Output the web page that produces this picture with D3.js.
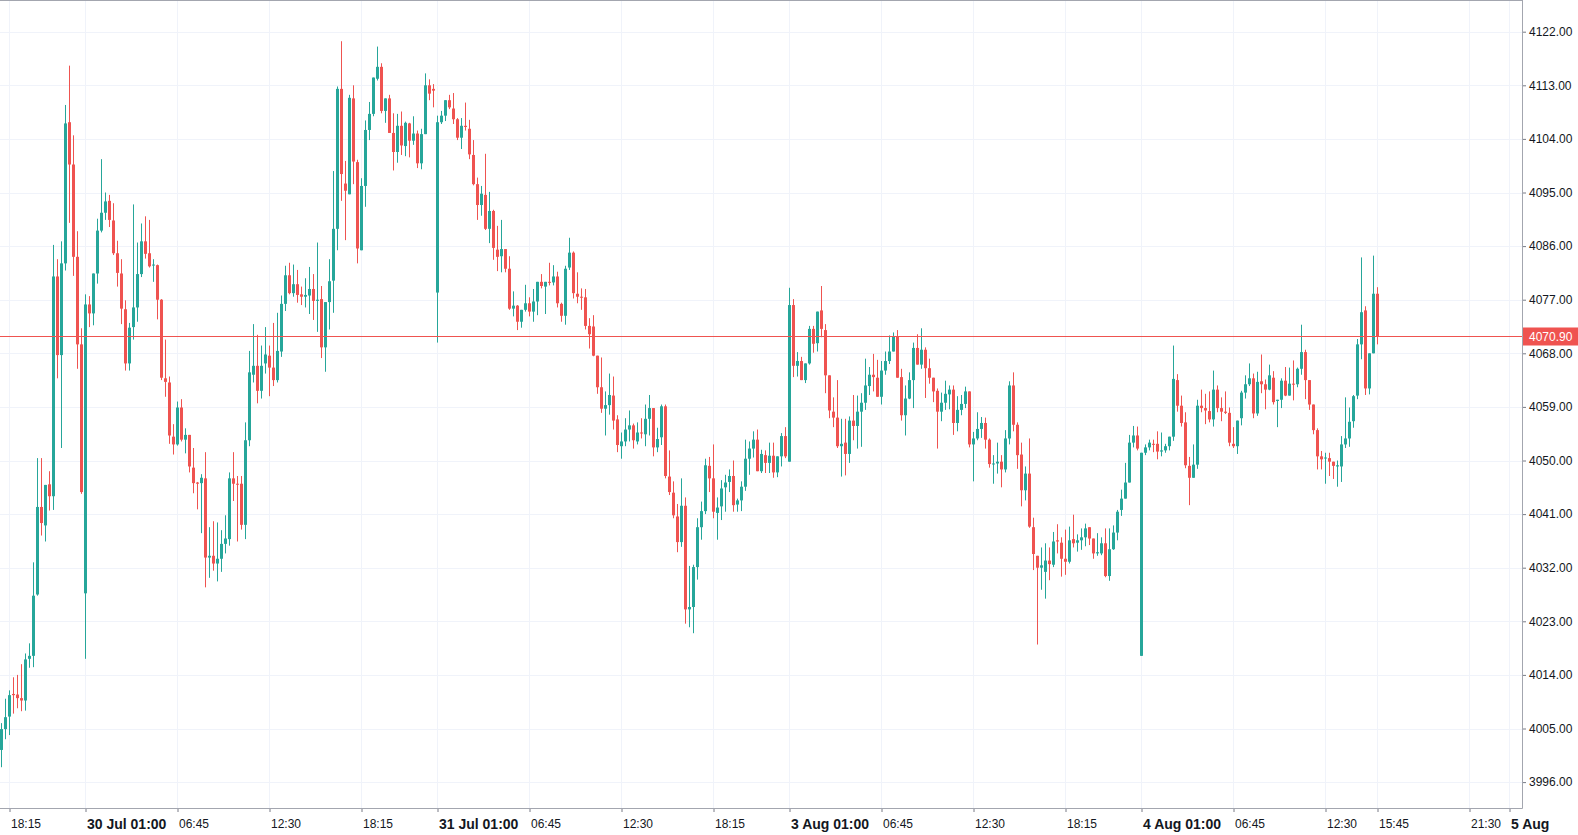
<!DOCTYPE html>
<html>
<head>
<meta charset="utf-8">
<script src="https://d3js.org/d3.v7.min.js"></script>
<style>
  body { margin: 0; background: #ffffff; }
  svg { display: block; font-family: "Liberation Sans", Arial, sans-serif; }
</style>
</head>
<body>
<svg id="chart"></svg>
<script>
// 15 min candles, 29 Jul 17:45 -> 4 Aug 15:45 (session gaps skipped)
const opens = [
4001.4,4004.9,4007.0,4010.8,4010.7,4010.1,4009.7,4016.7,4017.2,4027.5,4042.2,4039.1,4046.0,4044.0,4080.9,4067.7,4083.1,4106.8,4099.7,4084.2,
4069.5,4027.7,4076.2,4074.7,4081.4,4088.6,4091.6,4093.6,4090.3,4084.8,4081.4,4075.4,4066.3,4072.4,4075.7,4081.3,4086.8,4084.8,4082.8,4082.8,
4077.0,4063.8,4063.1,4054.0,4052.7,4058.9,4053.5,4054.3,4048.8,4046.3,4046.2,4047.0,4033.7,4034.0,4032.7,4033.5,4036.0,4036.8,4047.0,4046.1,
4046.1,4039.2,4053.4,4064.4,4065.9,4061.7,4066.3,4067.6,4065.6,4063.5,4068.3,4076.3,4081.1,4078.1,4079.6,4077.9,4077.5,4077.7,4078.8,4076.8,
4077.1,4069.0,4076.6,4080.2,4088.9,4112.4,4096.5,4094.7,4110.8,4100.1,4085.3,4096.1,4105.5,4108.2,4114.1,4116.1,4108.7,4110.8,4105.0,4101.8,
4106.2,4102.8,4106.6,4103.7,4104.9,4099.9,4104.8,4113.0,4112.4,4078.2,4106.8,4107.9,4110.5,4109.1,4107.3,4104.2,4106.2,4105.7,4101.3,4096.4,
4092.9,4094.6,4088.9,4091.9,4085.4,4084.3,4085.5,4082.2,4075.5,4076.0,4073.3,4075.3,4076.4,4075.0,4076.7,4080.0,4079.2,4080.0,4079.9,4080.9,
4076.3,4074.3,4082.4,4084.9,4078.0,4077.5,4077.4,4072.6,4072.5,4067.6,4062.3,4058.7,4059.3,4060.9,4056.9,4052.4,4053.2,4055.2,4055.9,4053.2,
4054.7,4054.4,4057.0,4058.8,4052.2,4053.9,4059.1,4047.3,4044.6,4040.6,4036.3,4042.4,4025.0,4025.4,4032.1,4038.8,4041.5,4049.1,4047.0,4041.2,
4042.3,4045.5,4046.4,4047.4,4042.6,4043.3,4045.6,4050.3,4052.0,4053.5,4048.2,4050.9,4049.6,4050.8,4048.0,4050.7,4054.1,4049.8,4076.1,4065.9,
4066.7,4063.5,4066.3,4072.1,4069.7,4075.2,4071.9,4064.3,4058.2,4057.2,4052.4,4053.0,4051.1,4056.7,4055.8,4058.2,4059.7,4062.5,4064.4,4063.9,
4060.7,4065.1,4066.7,4068.3,4070.8,4064.0,4057.6,4060.4,4063.5,4068.9,4066.1,4068.6,4065.5,4063.9,4061.7,4058.2,4059.7,4061.1,4061.9,4056.3,
4058.5,4059.5,4061.6,4052.7,4053.7,4055.3,4056.3,4053.5,4049.4,4049.5,4049.8,4048.5,4053.7,4062.6,4056.0,4051.0,4045.0,4047.8,4038.8,4034.0,
4032.0,4031.3,4033.2,4032.5,4036.6,4036.2,4033.5,4033.0,4036.8,4036.2,4036.6,4037.1,4038.8,4036.9,4034.4,4034.4,4036.1,4030.6,4035.1,4037.9,
4041.7,4043.6,4046.3,4053.0,4054.2,4017.2,4051.3,4052.2,4052.8,4052.8,4051.5,4051.7,4052.4,4054.0,4063.5,4059.2,4056.4,4049.1,4047.1,4049.3,
4059.2,4058.8,4058.3,4056.9,4061.9,4058.8,4058.2,4058.0,4052.8,4052.4,4057.1,4061.4,4062.8,4063.8,4057.9,4063.3,4062.8,4061.9,4063.9,4060.0,
4060.2,4063.4,4060.9,4062.9,4062.8,4065.4,4068.2,4063.5,4059.4,4055.1,4050.7,4050.4,4050.4,4049.8,4049.0,4049.0,4052.7,4053.7,4056.6,4060.9,
4069.5,4075.2,4062.1,4068.0,4078.0
];
const highs = [
4005.9,4010.0,4011.4,4013.6,4014.0,4015.8,4017.6,4019.3,4032.9,4050.4,4050.4,4045.9,4048.2,4086.2,4083.8,4086.8,4109.7,4116.3,4104.6,4088.5,
4072.2,4077.9,4077.6,4081.4,4090.6,4100.6,4095.0,4094.6,4093.2,4086.9,4083.8,4076.9,4073.1,4093.0,4086.6,4089.8,4091.0,4090.4,4083.8,4082.9,
4077.1,4070.3,4064.1,4056.1,4059.9,4060.3,4055.4,4054.3,4052.1,4046.4,4047.7,4051.4,4038.8,4039.8,4039.6,4038.3,4040.8,4048.0,4051.4,4047.4,
4047.4,4056.4,4068.4,4072.9,4071.1,4069.3,4072.4,4069.3,4073.1,4074.8,4077.7,4082.7,4083.2,4082.9,4082.0,4079.2,4080.6,4082.5,4081.3,4086.6,
4079.3,4076.6,4083.8,4098.6,4112.8,4120.4,4100.3,4111.4,4113.0,4100.5,4097.4,4107.1,4110.2,4114.3,4119.5,4116.7,4110.8,4111.4,4108.3,4108.2,
4108.6,4106.9,4106.7,4107.8,4105.4,4105.7,4115.0,4114.0,4113.2,4107.9,4108.7,4110.5,4111.4,4111.7,4107.5,4107.5,4110.1,4107.2,4103.8,4097.5,
4096.1,4101.5,4095.1,4092.1,4089.4,4090.4,4085.5,4084.3,4078.4,4076.1,4075.3,4079.5,4077.4,4078.8,4080.0,4081.3,4080.0,4083.2,4082.8,4081.7,
4076.5,4082.7,4087.4,4085.1,4081.6,4078.9,4078.8,4073.9,4074.4,4067.6,4067.3,4061.6,4064.6,4064.1,4057.6,4054.7,4057.1,4058.4,4056.2,4056.4,
4057.1,4059.4,4061.0,4058.8,4055.5,4059.4,4059.4,4051.7,4046.5,4042.7,4047.0,4043.8,4032.3,4032.5,4040.3,4043.1,4050.3,4050.6,4052.7,4043.8,
4046.7,4047.6,4048.5,4050.0,4043.6,4046.5,4053.5,4053.2,4054.9,4055.2,4051.8,4051.7,4053.0,4053.0,4050.7,4054.6,4055.6,4079.0,4077.1,4068.2,
4067.4,4066.3,4072.6,4072.6,4075.0,4079.3,4072.9,4064.3,4060.6,4063.5,4057.0,4057.0,4057.4,4061.0,4060.9,4061.3,4067.1,4065.7,4067.9,4066.9,
4066.7,4068.3,4071.0,4071.5,4071.9,4065.4,4062.6,4064.8,4069.8,4071.2,4072.2,4069.0,4067.1,4063.9,4062.1,4061.4,4063.4,4062.6,4062.6,4060.8,
4061.0,4062.4,4061.6,4054.8,4058.1,4057.3,4057.2,4053.7,4050.9,4053.0,4050.9,4055.1,4063.3,4064.8,4056.4,4053.0,4049.0,4053.7,4040.4,4034.0,
4035.4,4036.1,4035.4,4038.0,4039.3,4037.1,4038.4,4038.9,4040.9,4037.6,4038.6,4039.4,4038.8,4036.9,4037.8,4037.1,4038.6,4038.6,4039.1,4041.7,
4045.1,4049.6,4054.3,4055.8,4055.7,4051.3,4052.7,4053.5,4053.5,4054.9,4054.7,4052.8,4054.0,4069.3,4064.5,4060.9,4058.1,4050.6,4052.7,4060.2,
4061.9,4061.2,4061.6,4065.1,4062.6,4060.6,4061.6,4058.9,4055.6,4056.7,4061.7,4064.3,4066.3,4064.6,4064.9,4067.8,4063.6,4066.1,4065.0,4060.2,
4063.8,4065.7,4065.6,4066.8,4065.6,4072.8,4068.6,4063.5,4059.4,4055.4,4051.6,4051.3,4051.3,4049.8,4050.0,4054.1,4060.6,4058.9,4061.0,4070.4,
4084.1,4075.9,4068.0,4084.4,4079.1
];
const lows = [
3998.5,4003.2,4003.9,4007.5,4008.4,4007.9,4008.0,4015.2,4015.3,4027.3,4037.4,4036.4,4041.6,4041.7,4063.8,4052.1,4081.9,4089.9,4081.0,4065.4,
4044.4,4016.7,4072.4,4072.7,4079.7,4088.3,4090.4,4089.2,4084.5,4079.2,4072.9,4065.1,4065.1,4070.3,4073.3,4080.8,4083.9,4082.4,4080.0,4073.7,
4063.5,4060.7,4052.8,4051.0,4052.5,4053.2,4051.2,4048.0,4044.5,4041.8,4037.8,4028.7,4030.3,4031.5,4029.7,4031.3,4034.4,4035.7,4043.2,4036.4,
4038.4,4036.8,4052.4,4063.1,4059.6,4060.4,4064.6,4060.8,4062.5,4063.1,4067.4,4075.1,4077.9,4077.5,4076.5,4076.1,4075.7,4074.6,4073.6,4071.6,
4067.2,4064.9,4072.0,4074.8,4085.3,4093.6,4087.0,4094.7,4096.4,4083.1,4085.3,4092.6,4103.8,4107.8,4113.8,4108.3,4106.7,4105.0,4098.7,4100.0,
4101.3,4101.1,4100.9,4103.0,4099.1,4098.9,4104.8,4110.5,4109.3,4069.8,4106.5,4107.0,4109.0,4106.5,4103.8,4102.3,4105.4,4100.6,4096.2,4090.4,
4091.1,4088.7,4086.5,4083.7,4081.8,4081.6,4081.6,4075.3,4074.2,4071.9,4072.3,4075.0,4074.2,4073.3,4074.4,4078.9,4074.6,4079.4,4079.4,4075.7,
4073.3,4072.8,4082.0,4077.2,4076.4,4075.3,4072.0,4068.8,4067.5,4061.2,4058.0,4054.2,4057.7,4055.2,4051.4,4050.3,4052.4,4053.2,4052.0,4052.7,
4053.7,4052.4,4054.2,4050.7,4051.4,4052.6,4047.0,4044.2,4040.3,4034.6,4035.5,4022.6,4022.0,4021.0,4030.0,4036.7,4041.0,4044.7,4040.3,4036.7,
4040.0,4041.4,4044.7,4041.4,4041.4,4041.5,4044.9,4047.6,4050.5,4048.2,4047.9,4047.9,4047.9,4047.1,4047.2,4049.0,4050.4,4049.8,4064.0,4064.1,
4063.5,4063.0,4066.1,4068.1,4068.3,4070.7,4061.3,4057.1,4055.6,4052.1,4047.3,4047.5,4049.6,4053.4,4052.0,4052.3,4058.5,4061.0,4061.6,4060.7,
4059.4,4064.4,4066.2,4068.3,4063.9,4056.7,4054.2,4060.3,4058.8,4066.1,4065.4,4060.5,4062.9,4059.8,4052.0,4056.6,4058.5,4058.6,4054.3,4054.9,
4057.6,4058.8,4052.2,4046.5,4053.4,4053.8,4052.0,4048.8,4046.1,4047.8,4045.5,4048.0,4052.7,4054.9,4048.6,4042.3,4043.3,4038.7,4031.6,4019.1,
4028.3,4026.8,4029.9,4032.1,4034.4,4030.5,4030.8,4032.7,4035.4,4034.7,4035.0,4035.6,4035.8,4033.5,4034.0,4034.1,4030.4,4029.8,4035.0,4036.6,
4040.7,4043.6,4046.3,4052.2,4051.7,4017.2,4050.9,4051.7,4051.4,4050.2,4050.7,4051.3,4051.7,4053.3,4058.2,4055.7,4048.7,4042.5,4047.1,4048.6,
4058.1,4056.1,4056.4,4055.7,4058.1,4056.6,4057.8,4052.4,4052.1,4051.1,4055.9,4060.4,4062.5,4057.1,4057.5,4061.3,4058.6,4061.8,4059.4,4055.6,
4058.8,4060.8,4060.9,4060.1,4062.3,4064.4,4060.3,4058.5,4054.4,4048.5,4048.5,4046.1,4047.4,4046.9,4045.6,4046.4,4052.1,4052.3,4055.5,4060.3,
4067.0,4061.0,4061.1,4068.0,4069.5
];
const closes = [
4004.9,4006.9,4010.6,4010.6,4010.1,4009.7,4016.6,4017.2,4027.3,4042.2,4039.5,4045.9,4044.0,4080.9,4067.7,4083.1,4106.6,4099.7,4084.2,4069.5,
4044.7,4076.2,4074.7,4081.4,4088.6,4091.6,4093.5,4090.4,4084.8,4081.5,4075.5,4066.3,4072.3,4075.7,4081.3,4086.8,4084.7,4082.6,4082.9,4077.0,
4063.9,4063.2,4054.2,4052.7,4058.9,4053.5,4054.3,4049.0,4046.2,4046.1,4047.1,4033.7,4034.0,4032.7,4033.5,4036.0,4036.9,4047.0,4046.1,4046.0,
4039.2,4053.4,4064.8,4065.9,4061.7,4065.9,4067.8,4065.6,4063.5,4068.4,4076.3,4081.1,4078.1,4079.6,4077.8,4077.5,4077.8,4078.8,4076.8,4077.0,
4069.0,4076.6,4080.1,4088.9,4112.4,4098.1,4095.3,4110.9,4100.2,4085.6,4096.1,4105.5,4108.2,4114.3,4116.1,4108.7,4110.8,4105.0,4101.8,4106.2,
4102.9,4106.7,4103.7,4104.9,4099.9,4104.8,4113.0,4111.6,4112.1,4106.8,4107.9,4110.5,4109.3,4107.3,4104.2,4106.2,4106.0,4101.4,4096.4,4092.9,
4094.8,4088.9,4091.9,4085.7,4084.2,4085.5,4082.2,4075.5,4076.0,4073.3,4075.3,4076.4,4075.0,4076.7,4080.0,4079.3,4080.0,4079.9,4080.9,4076.4,
4074.3,4082.2,4084.9,4078.1,4077.5,4077.4,4072.6,4071.2,4067.6,4062.3,4058.7,4059.3,4061.0,4056.7,4052.6,4053.2,4055.2,4055.9,4053.4,4054.7,
4054.6,4057.0,4058.8,4052.2,4053.6,4059.1,4047.4,4044.7,4040.8,4036.3,4042.4,4025.0,4025.4,4032.1,4038.8,4041.5,4049.2,4047.0,4041.4,4042.1,
4045.3,4046.3,4047.4,4042.5,4043.3,4045.6,4050.3,4052.0,4053.5,4048.2,4051.1,4049.6,4050.8,4048.0,4050.7,4054.1,4050.7,4076.1,4065.9,4066.7,
4063.5,4066.3,4072.1,4069.6,4075.0,4072.1,4064.3,4058.4,4057.2,4052.4,4052.8,4051.1,4056.7,4055.8,4058.2,4059.7,4062.6,4064.4,4064.0,4060.7,
4065.1,4066.7,4068.3,4070.8,4063.9,4057.6,4060.4,4063.5,4068.9,4066.1,4068.6,4065.5,4063.9,4061.6,4058.2,4059.7,4061.2,4061.9,4056.3,4058.5,
4059.5,4061.6,4052.7,4053.7,4055.3,4056.3,4053.5,4049.4,4049.5,4049.8,4048.5,4053.7,4062.6,4056.0,4050.9,4045.0,4047.8,4038.9,4034.3,4032.0,
4032.4,4033.2,4032.6,4036.4,4036.4,4033.5,4033.0,4036.6,4036.1,4036.6,4037.1,4038.6,4036.9,4034.4,4034.6,4036.1,4030.6,4035.1,4037.9,4041.4,
4043.6,4046.3,4053.0,4054.2,4052.0,4051.3,4052.2,4053.0,4052.7,4051.5,4051.7,4052.4,4054.0,4063.7,4059.2,4056.3,4049.2,4047.1,4049.3,4059.2,
4058.8,4058.4,4056.9,4061.9,4058.8,4058.2,4058.0,4053.0,4052.4,4056.7,4061.4,4062.8,4063.8,4057.9,4063.2,4062.8,4061.9,4064.3,4059.8,4060.2,
4063.4,4060.9,4062.9,4062.8,4065.4,4068.2,4063.5,4059.4,4055.1,4050.7,4050.2,4050.5,4049.8,4049.1,4049.2,4052.7,4053.7,4056.5,4060.8,4069.5,
4074.9,4062.1,4068.0,4078.0,4070.9
];

const lastPrice = 4070.90;

const priceTicks = [3996, 4005, 4014, 4023, 4032, 4041, 4050, 4059, 4068, 4077, 4086, 4095, 4104, 4113, 4122];

// candle index of each time label
const timeTickIndex = [2, 21, 44, 67, 90, 109, 132, 155, 178, 197, 220, 243, 266, 285, 308, 331, 344, 367, 377];
const timeTickLabels = ['18:15', '30 Jul 01:00', '06:45', '12:30', '18:15', '31 Jul 01:00', '06:45', '12:30', '18:15',
  '3 Aug 01:00', '06:45', '12:30', '18:15', '4 Aug 01:00', '06:45', '12:30', '15:45', '21:30', '5 Aug'];


class CandleChart {

  constructor(_config) {
    this.config = {
      parentElement: _config.parentElement,
      containerWidth: _config.containerWidth || 1578,
      containerHeight: _config.containerHeight || 835,
      plotWidth: 1522,
      plotHeight: 808
    }
    this.data = opens.map((o, i) => ({ i: i, o: o, h: highs[i], l: lows[i], c: closes[i] }));
    this.initVis();
  }

  initVis() {
    let vis = this;
    let cfg = vis.config;

    vis.svg = d3.select(cfg.parentElement)
        .attr('width', cfg.containerWidth)
        .attr('height', cfg.containerHeight);

    vis.svg.append('rect')
        .attr('width', cfg.containerWidth)
        .attr('height', cfg.containerHeight)
        .attr('fill', '#ffffff');

    // 4px per candle
    vis.xScale = d3.scaleLinear()
        .domain([0, timeTickIndex[timeTickIndex.length - 1]])
        .range([1.5, 1509.5]);

    vis.yScale = d3.scaleLinear()
        .domain([priceTicks[0], priceTicks[priceTicks.length - 1]])
        .range([782.1, 31.7]);

    vis.upColor = '#26a69a';
    vis.downColor = '#ef5350';

    // grid
    vis.grid = vis.svg.append('g');
    vis.grid.selectAll('.hgrid')
        .data(priceTicks)
      .join('line')
        .attr('class', 'hgrid')
        .attr('x1', 0).attr('x2', cfg.plotWidth)
        .attr('y1', d => Math.round(vis.yScale(d)) + 0.5)
        .attr('y2', d => Math.round(vis.yScale(d)) + 0.5)
        .attr('stroke', '#f0f3fa');
    vis.grid.selectAll('.vgrid')
        .data(timeTickIndex)
      .join('line')
        .attr('class', 'vgrid')
        .attr('y1', 0).attr('y2', cfg.plotHeight)
        .attr('x1', d => vis.xScale(d))
        .attr('x2', d => vis.xScale(d))
        .attr('stroke', '#f0f3fa');

    vis.chart = vis.svg.append('g');

    // price axis on the right
    vis.yAxis = d3.axisRight(vis.yScale)
        .tickValues(priceTicks)
        .tickFormat(d3.format('.2f'))
        .tickSize(4)
        .tickPadding(3);
    vis.yAxisG = vis.svg.append('g')
        .attr('transform', `translate(${cfg.plotWidth},0)`)
        .call(vis.yAxis);
    vis.yAxisG.select('.domain').remove();
    vis.yAxisG.selectAll('line').attr('stroke', '#787b86');
    vis.yAxisG.selectAll('text')
        .attr('fill', '#131722')
        .style('font-size', '12px')
        .style('font-family', '"Liberation Sans", Arial, sans-serif');

    // time axis
    vis.xAxis = d3.axisBottom(vis.xScale)
        .tickValues(timeTickIndex)
        .tickFormat((d, i) => timeTickLabels[i])
        .tickSize(4);
    vis.xAxisG = vis.svg.append('g')
        .attr('transform', `translate(0,${cfg.plotHeight})`)
        .call(vis.xAxis);
    vis.xAxisG.select('.domain').remove();
    vis.xAxisG.selectAll('line').attr('stroke', '#787b86');
    vis.xAxisG.selectAll('text')
        .attr('text-anchor', 'start')
        .attr('x', 1)
        .attr('y', 11)
        .attr('fill', '#131722')
        .style('font-family', '"Liberation Sans", Arial, sans-serif')
        .style('font-size', (d, i) => /[A-Za-z]/.test(timeTickLabels[i]) ? '14px' : '12px')
        .style('font-weight', (d, i) => /[A-Za-z]/.test(timeTickLabels[i]) ? 'bold' : 'normal');

    // frame
    vis.frame = vis.svg.append('g').attr('stroke', '#a3a6af').attr('fill', 'none');
    vis.frame.append('line').attr('x1', 0).attr('x2', cfg.plotWidth + 0.5).attr('y1', 0.5).attr('y2', 0.5);
    vis.frame.append('line').attr('x1', cfg.plotWidth + 0.5).attr('x2', cfg.plotWidth + 0.5).attr('y1', 0).attr('y2', cfg.plotHeight + 0.5);
    vis.frame.append('line').attr('x1', 0).attr('x2', cfg.plotWidth + 0.5).attr('y1', cfg.plotHeight + 0.5).attr('y2', cfg.plotHeight + 0.5);

    vis.updateVis();
  }

  updateVis() {
    let vis = this;
    let color = d => d.c >= d.o ? vis.upColor : vis.downColor;

    vis.chart.selectAll('.wick')
        .data(vis.data)
      .join('line')
        .attr('class', 'wick')
        .attr('x1', d => vis.xScale(d.i))
        .attr('x2', d => vis.xScale(d.i))
        .attr('y1', d => vis.yScale(d.h))
        .attr('y2', d => vis.yScale(d.l))
        .attr('stroke', color)
        .attr('stroke-width', 1);

    vis.chart.selectAll('.body')
        .data(vis.data)
      .join('rect')
        .attr('class', 'body')
        .attr('x', d => vis.xScale(d.i) - 1.5)
        .attr('width', 3)
        .attr('y', d => vis.yScale(Math.max(d.o, d.c)))
        .attr('height', d => Math.max(1, Math.abs(vis.yScale(d.o) - vis.yScale(d.c))))
        .attr('fill', color);

    vis.renderVis();
  }

  renderVis() {
    let vis = this;
    let cfg = vis.config;
    let py = Math.round(vis.yScale(lastPrice)) + 0.5;

    vis.svg.append('line')
        .attr('x1', 0).attr('x2', cfg.plotWidth)
        .attr('y1', py).attr('y2', py)
        .attr('stroke', '#ef5350')
        .attr('stroke-width', 1);

    vis.svg.append('rect')
        .attr('x', cfg.plotWidth + 1)
        .attr('y', py - 9)
        .attr('width', cfg.containerWidth - cfg.plotWidth - 1)
        .attr('height', 18)
        .attr('fill', '#ef5350');

    vis.svg.append('text')
        .attr('x', cfg.plotWidth + 7)
        .attr('y', py)
        .attr('dy', '0.35em')
        .attr('fill', '#ffffff')
        .style('font-size', '12px')
        .text(d3.format('.2f')(lastPrice));
  }
}

new CandleChart({ parentElement: '#chart' });
</script>
</body>
</html>
